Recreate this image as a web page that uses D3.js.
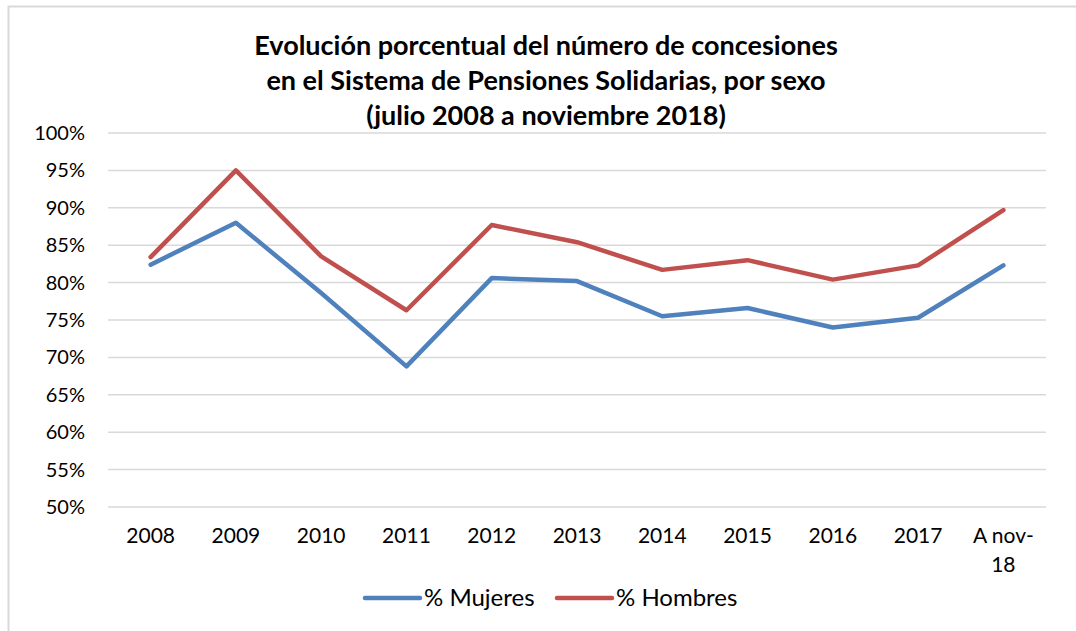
<!DOCTYPE html>
<html>
<head>
<meta charset="UTF-8">
<script src="https://cdn.jsdelivr.net/npm/d3@7"></script>
<style>
  body { margin: 0; background: #fff; }
  svg text { font-family: Lato, "Open Sans", sans-serif; fill: #000; }
  .grid line { stroke: #d9d9d9; stroke-width: 1.5; }
  .title { font-weight: bold; font-size: 27px; }
  .yaxis .tick text { font-size: 20px; }
  .xaxis .tick text { font-size: 21px; }
</style>
</head>
<body>
<svg id="chart" width="1076" height="631"></svg>
<script>
// data
var categories = ["2008", "2009", "2010", "2011", "2012", "2013", "2014", "2015", "2016", "2017", "A nov-18"];
var mujeres = [82.4, 88.0, 78.6, 68.8, 80.6, 80.2, 75.5, 76.6, 74.0, 75.3, 82.3];
var hombres = [83.4, 95.0, 83.5, 76.3, 87.7, 85.4, 81.7, 83.0, 80.4, 82.3, 89.7];
var yTicks = [50, 55, 60, 65, 70, 75, 80, 85, 90, 95, 100];
var titleLines = ["Evolución porcentual del número de concesiones",
                  "en el Sistema de Pensiones Solidarias, por sexo",
                  "(julio 2008 a noviembre 2018)"];

var Margin = {Left: 108, Right: 30, Top: 133, Bottom: 124};
var Width = 1076, Height = 631;

var svg = d3.select("#chart");

// outer frame
svg.append("rect")
   .attr("x", 8.5).attr("y", 6.5)
   .attr("width", Width + 20).attr("height", Height + 20)
   .attr("fill", "none").attr("stroke", "#d9d9d9").attr("stroke-width", 2);

var x = d3.scaleBand()
  .domain(categories)
  .range([Margin.Left, Width - Margin.Right]);

var y = d3.scaleLinear()
  .domain([50, 100])
  .range([Height - Margin.Bottom, Margin.Top]);

// gridlines
svg.append("g").attr("class", "grid")
  .selectAll("line").data(yTicks).enter()
  .append("line")
  .attr("x1", Margin.Left).attr("x2", Width - Margin.Right)
  .attr("y1", function(d){ return y(d); })
  .attr("y2", function(d){ return y(d); });

// y axis
var yAxis = svg.append("g")
  .attr("class", "yaxis")
  .attr("transform", "translate(" + (Margin.Left) + ",0)")
  .call(d3.axisLeft(y).tickValues(yTicks).tickSize(0).tickPadding(23)
        .tickFormat(function(d){ return d + "%"; }));
yAxis.select(".domain").remove();

// x axis
var xAxis = svg.append("g")
  .attr("class", "xaxis")
  .attr("transform", "translate(0," + (Height - Margin.Bottom) + ")")
  .call(d3.axisBottom(x).tickSize(0).tickPadding(21));
xAxis.select(".domain").remove();
xAxis.selectAll(".tick text").each(function(d) {
  var t = d3.select(this);
  if (d === "A nov-18") {
    t.text(null);
    t.append("tspan").attr("x", 0).text("A nov-");
    t.append("tspan").attr("x", 0).attr("dy", "1.4em").text("18");
  }
});

var line = d3.line()
  .x(function(d, i){ return x(categories[i]) + x.bandwidth() / 2; })
  .y(function(d){ return y(d); });

var series = [
  {name: "% Mujeres", values: mujeres, color: "#4f81bd"},
  {name: "% Hombres", values: hombres, color: "#c0504d"}
];

svg.selectAll(".series").data(series).enter()
  .append("path")
  .attr("class", "series")
  .attr("d", function(s){ return line(s.values); })
  .attr("fill", "none")
  .attr("stroke", function(s){ return s.color; })
  .attr("stroke-width", 4.5)
  .attr("stroke-linejoin", "round")
  .attr("stroke-linecap", "round");

// title
svg.append("text")
  .attr("class", "title")
  .attr("text-anchor", "middle")
  .selectAll("tspan").data(titleLines).enter()
  .append("tspan")
  .attr("x", 546)
  .attr("y", function(d, i){ return 55 + i * 35; })
  .text(function(d){ return d; });

// legend
var legendX = [365, 557];
var legend = svg.selectAll(".legend").data(series).enter()
  .append("g")
  .attr("class", "legend")
  .attr("transform", function(d, i){ return "translate(" + legendX[i] + ",598)"; });
legend.append("line")
  .attr("x1", 0).attr("x2", 55)
  .attr("stroke", function(d){ return d.color; })
  .attr("stroke-width", 4.5)
  .attr("stroke-linecap", "round");
legend.append("text")
  .attr("x", 59).attr("dy", "0.35em")
  .style("font-size", "24px")
  .text(function(d){ return d.name; });
</script>
</body>
</html>
